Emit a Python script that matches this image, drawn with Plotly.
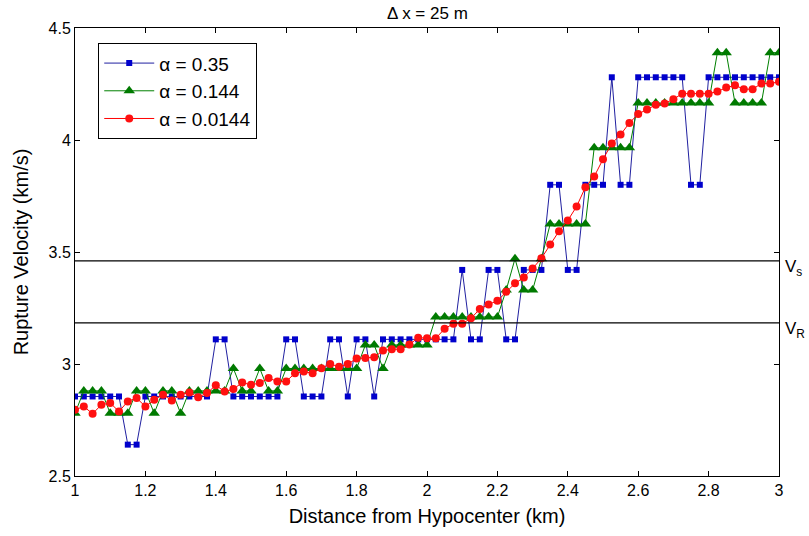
import numpy as np
import plotly.graph_objects as go

# Distance grid (dx = 25 m)
distance = np.round(np.linspace(1.0, 3.0, 81), 3)

blue_035 = [2.855, 2.855, 2.855, 2.855, 2.855, 2.855, 2.64, 2.64,
            2.855, 2.855, 2.855, 2.855, 2.855, 2.855, 2.855, 2.855,
            3.11, 3.11, 2.855, 2.855, 2.855, 2.855, 2.855, 2.855,
            3.11, 3.11, 2.855, 2.855, 2.855, 3.11, 3.11, 2.855,
            3.11, 3.11, 2.855, 3.11, 3.11, 3.11, 3.11, 3.11,
            3.11, 3.11, 3.11, 3.11, 3.42, 3.11, 3.11, 3.42,
            3.42, 3.11, 3.11, 3.42, 3.42, 3.42, 3.80, 3.80,
            3.42, 3.42, 3.80, 3.80, 3.80, 4.28, 3.80, 3.80,
            4.28, 4.28, 4.28, 4.28, 4.28, 4.28, 3.80, 3.80,
            4.28, 4.28, 4.28, 4.28, 4.28, 4.28, 4.28, 4.28, 4.28]

green_0144 = [2.78, 2.88, 2.88, 2.88, 2.78, 2.78, 2.78, 2.88,
              2.88, 2.78, 2.88, 2.88, 2.78, 2.88, 2.88, 2.88,
              2.88, 2.88, 2.98, 2.88, 2.88, 2.98, 2.88, 2.88,
              2.98, 2.98, 2.98, 2.98, 2.98, 2.98, 2.98, 2.98,
              2.98, 3.085, 3.085, 2.98, 3.085, 3.085, 3.085, 3.085,
              3.085, 3.21, 3.21, 3.21, 3.21, 3.21, 3.21, 3.21,
              3.21, 3.33, 3.47, 3.33, 3.33, 3.47, 3.625, 3.625,
              3.625, 3.625, 3.625, 3.965, 3.965, 3.965, 3.965, 3.965,
              4.165, 4.165, 4.165, 4.165, 4.165, 4.165, 4.165, 4.165,
              4.165, 4.39, 4.39, 4.165, 4.165, 4.165, 4.165, 4.39, 4.39]

red_00144 = [2.796, 2.81, 2.778, 2.818, 2.826, 2.788, 2.833, 2.848,
             2.81, 2.84, 2.863, 2.837, 2.863, 2.873, 2.852, 2.87,
             2.905, 2.877, 2.888, 2.917, 2.907, 2.915, 2.937, 2.922,
             2.922, 2.959, 2.966, 2.959, 2.981, 3.0, 2.988, 3.0,
             3.024, 3.027, 3.03, 3.06, 3.066, 3.066, 3.087, 3.117,
             3.115, 3.115, 3.157, 3.18, 3.18, 3.204, 3.245, 3.266,
             3.282, 3.322, 3.36, 3.386, 3.426, 3.472, 3.534, 3.593,
             3.641, 3.703, 3.789, 3.837, 3.914, 3.984, 4.024, 4.076,
             4.116, 4.136, 4.157, 4.163, 4.182, 4.207, 4.207, 4.207,
             4.207, 4.216, 4.234, 4.244, 4.227, 4.227, 4.252, 4.252, 4.26]

VS = 3.46
VR = 3.184

x_ticks = [1, 1.2, 1.4, 1.6, 1.8, 2, 2.2, 2.4, 2.6, 2.8, 3]
x_tick_labels = ["1", "1.2", "1.4", "1.6", "1.8", "2", "2.2", "2.4", "2.6", "2.8", "3"]
y_ticks = [2.5, 3, 3.5, 4, 4.5]
y_tick_labels = ["2.5", "3", "3.5", "4", "4.5"]

FONT = "Liberation Sans, Arial, sans-serif"

fig = go.Figure()
fig.add_trace(go.Scatter(
    x=distance, y=blue_035, mode="lines+markers", name="α = 0.35",
    line=dict(color="#2020a0", width=1),
    marker=dict(symbol="square", size=6, color="#0000cc")))
fig.add_trace(go.Scatter(
    x=distance, y=green_0144, mode="lines+markers", name="α = 0.144",
    line=dict(color="#008000", width=1),
    marker=dict(symbol="triangle-up", size=10, color="#007a00")))
fig.add_trace(go.Scatter(
    x=distance, y=red_00144, mode="lines+markers", name="α = 0.0144",
    line=dict(color="#ff0000", width=1),
    marker=dict(symbol="circle", size=8, color="#ff1010")))

for v in (VS, VR):
    fig.add_shape(type="line", xref="paper", x0=0, x1=1, yref="y", y0=v, y1=v,
                  line=dict(color="black", width=1.3))

fig.add_annotation(xref="paper", x=1, yref="y", y=VS, xanchor="left", yanchor="top",
                   xshift=4, yshift=6, showarrow=False,
                   text="V<sub>s</sub>", font=dict(family=FONT, size=17, color="black"))
fig.add_annotation(xref="paper", x=1, yref="y", y=VR, xanchor="left", yanchor="top",
                   xshift=4, yshift=6, showarrow=False,
                   text="V<sub>R</sub>", font=dict(family=FONT, size=17, color="black"))

fig.add_annotation(xref="paper", x=0.5, yref="paper", y=1, xanchor="center", yanchor="bottom",
                   yshift=3, showarrow=False, text="Δ x = 25 m",
                   font=dict(family=FONT, size=17, color="black"))

axis_common = dict(showline=True, linecolor="black", linewidth=1, mirror="ticks",
                   ticks="inside", ticklen=5, tickcolor="black", showgrid=False,
                   zeroline=False, tickfont=dict(family=FONT, size=16, color="black"))

fig.update_xaxes(range=[1, 3], tickvals=x_ticks, ticktext=x_tick_labels,
                 title=dict(text="Distance from Hypocenter (km)", standoff=10,
                            font=dict(family=FONT, size=20, color="black")),
                 **axis_common)
fig.update_yaxes(range=[2.5, 4.5], tickvals=y_ticks, ticktext=y_tick_labels,
                 title=dict(text="Rupture Velocity (km/s)", standoff=14,
                            font=dict(family=FONT, size=20, color="black")),
                 **axis_common)

fig.update_layout(
    width=809, height=536,
    margin=dict(l=75, r=30, t=28, b=60, autoexpand=False),
    paper_bgcolor="white", plot_bgcolor="white",
    showlegend=True,
    legend=dict(x=0.033, y=0.966, xanchor="left", yanchor="top",
                bgcolor="white", bordercolor="black", borderwidth=1,
                font=dict(family=FONT, size=19, color="black"),
                tracegroupgap=0, itemwidth=50),
    font=dict(family=FONT),
)

fig.write_html("out.html")
